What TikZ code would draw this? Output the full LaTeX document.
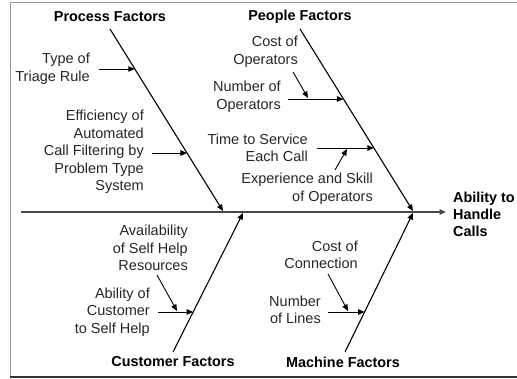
\documentclass[tikz,border=0pt]{standalone}
\usepackage{fontspec}
\setmainfont{Liberation Sans}
\usetikzlibrary{arrows.meta,calc}

\tikzset{
  cause/.style={inner sep=0pt, align=right, text=black!85,
    font=\fontsize{14.5}{17.5}\selectfont},
  factor/.style={inner sep=0pt, font=\bfseries\fontsize{14.4}{17}\selectfont},
  effectbox/.style={inner sep=0pt, align=left,
    font=\bfseries\fontsize{14.4}{17}\selectfont},
  tip/.style={-{Triangle[length=6.5pt,width=5.5pt]}},
  bone/.style={tip, line width=1.1pt},
  twig/.style={tip, line width=0.9pt},
  spine/.style={tip, line width=1.8pt, draw=black!72},
}

\begin{document}
\begin{tikzpicture}[x=1pt,y=-1pt]
\useasboundingbox (0,0) rectangle (517,379);

% frame
\draw[black!40, line width=1pt] (10,377) -- (10,3) -- (518,3);
\draw[black!80, line width=1.4pt] (10,377) -- (518,377);

% effect and spine
\node[effectbox, anchor=west] (effect) at (453,214) {Ability to\\Handle\\Calls};
\coordinate (tail) at (21,212);
\draw[spine] (tail) -- (tail -| effect.west) [shorten >=7pt];

% main bones
\node[factor] (process)  at (110,17)  {Process Factors};
\node[factor] (people)   at (300,17)  {People Factors};
\node[factor] (customer) at (173,362) {Customer Factors};
\node[factor] (machine)  at (343,362) {Machine Factors};

\coordinate (pr0) at (110,29);  \coordinate (pr1) at (223,211);
\coordinate (pe0) at (300,29);  \coordinate (pe1) at (413,211);
\coordinate (cu0) at (173,352); \coordinate (cu1) at (243,213);
\coordinate (ma0) at (345,352); \coordinate (ma1) at (413,213);

\draw[bone] (pr0) -- (pr1);
\draw[bone] (pe0) -- (pe1);
\draw[bone] (cu0) -- (cu1);
\draw[bone] (ma0) -- (ma1);

% process causes
\node[cause, anchor=east] (triage) at (90,69) {Type of\\Triage Rule};
\node[cause, anchor=east] (filter) at (144,152)
  {Efficiency of\\Automated\\Call Filtering by\\Problem Type\\System};
\coordinate (prA) at ($(pr0)!0.2198!(pr1)$);
\coordinate (prB) at ($(pr0)!0.6813!(pr1)$);
\draw[twig] ($(triage.east |- prA)+(9,0)$) -- (prA);
\draw[twig] ($(filter.east |- prB)+(8,0)$) -- (prB);

% people causes
\node[cause, anchor=east] (opcost) at (298,52) {Cost of\\Operators};
\node[cause, anchor=east] (opnum)  at (281,97) {Number of\\Operators};
\node[cause, anchor=east] (service) at (308,148) {Time to Service\\Each Call};
\node[cause, anchor=east] (skill) at (373,189) {Experience and Skill\\of Operators};
\coordinate (peA) at ($(pe0)!0.3846!(pe1)$);
\coordinate (peB) at ($(pe0)!0.6538!(pe1)$);
\draw[twig] ($(opnum.east |- peA)+(7,0)$) coordinate (opnumL) -- (peA);
\draw[twig] ($(service.east |- peB)+(9,0)$) coordinate (serviceL) -- (peB);
\coordinate (opcostS) at (293,72);
\coordinate (opcostT) at (308,98);
\draw[twig] (opcostS) -- (opcostT);
\coordinate (skillS) at (335,170);
\coordinate (skillT) at (347,149);
\draw[twig] (skillS) -- (skillT);

% customer causes
\node[cause, anchor=east] (selfres) at (188,248)
  {Availability\\of Self Help\\Resources};
\node[cause, anchor=east] (selfhelp) at (150,312)
  {Ability of\\Customer\\to Self Help};
\coordinate (cuA) at ($(cu0)!0.2878!(cu1)$);
\draw[twig] ($(selfhelp.east |- cuA)+(8,0)$) -- (cuA);
\coordinate (selfresS) at (157,275);
\coordinate (selfresT) at (177,311);
\draw[twig] (selfresS) -- (selfresT);

% machine causes
\node[cause, anchor=east] (conncost) at (358,255) {Cost of\\Connection};
\node[cause, anchor=east] (lines) at (321,310) {Number\\of Lines};
\coordinate (maA) at ($(ma0)!0.2878!(ma1)$);
\draw[twig] ($(lines.east |- maA)+(7,0)$) -- (maA);
\coordinate (conncostS) at (328,274);
\coordinate (conncostT) at (348,311);
\draw[twig] (conncostS) -- (conncostT);
\end{tikzpicture}
\end{document}
